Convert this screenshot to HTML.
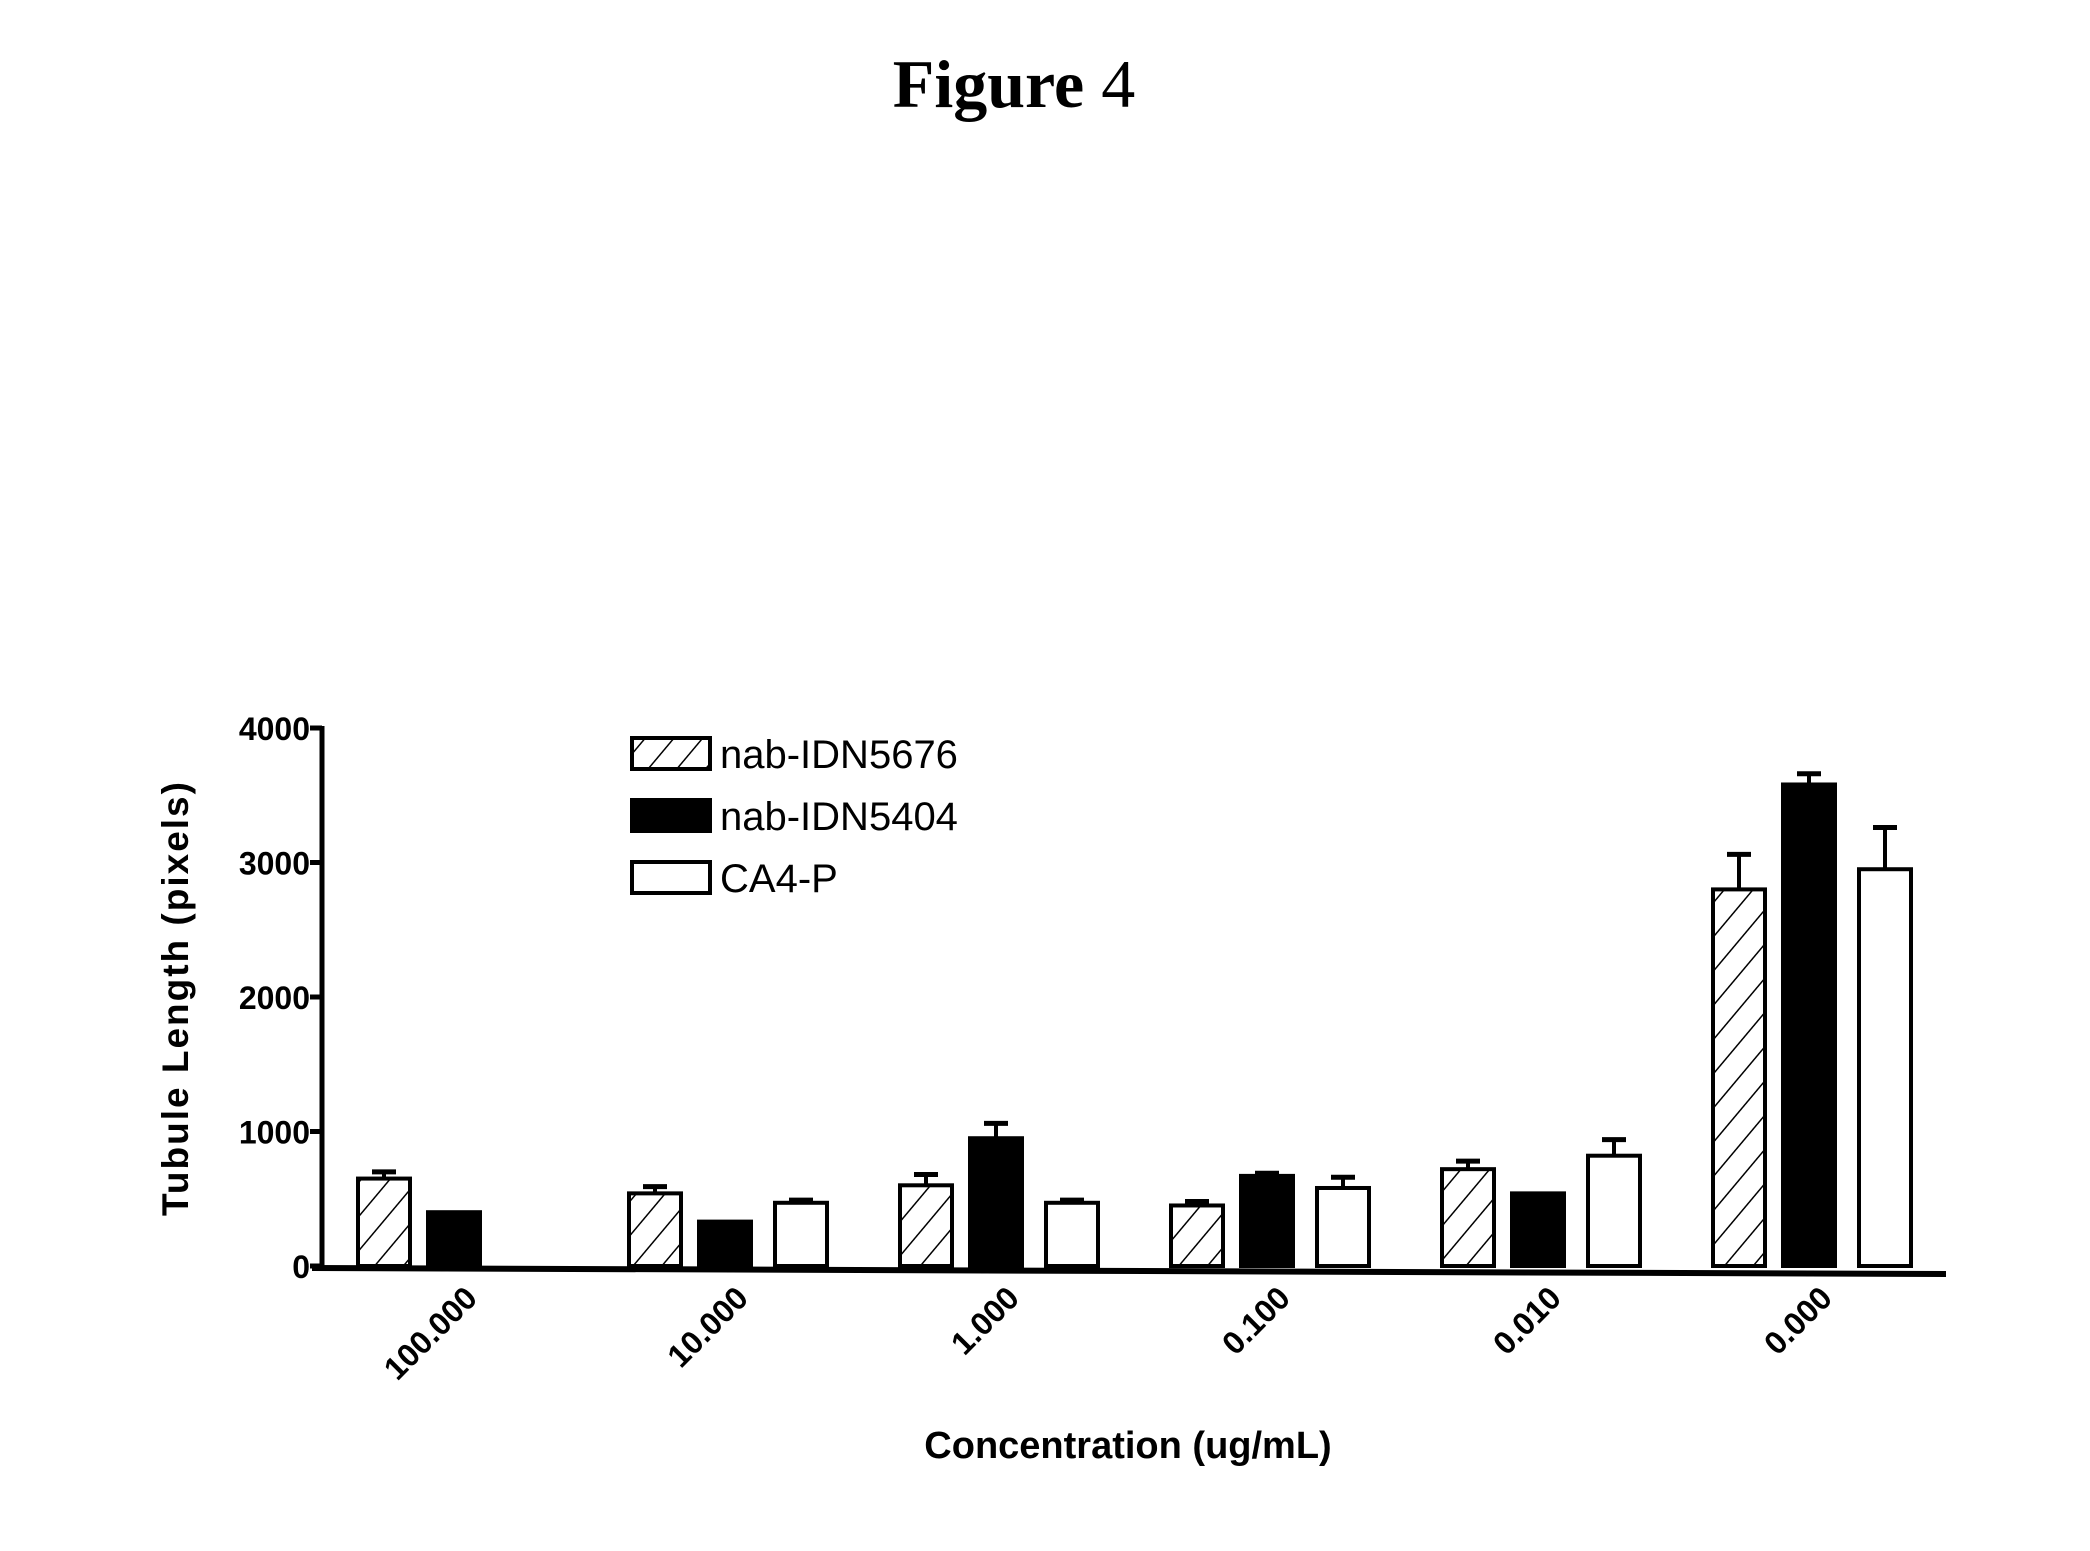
<!DOCTYPE html>
<html><head><meta charset="utf-8"><style>
html,body{margin:0;padding:0;background:#fff;}
svg{display:block;}
text{font-family:"Liberation Sans",sans-serif;fill:#000;}
</style></head><body>
<svg id="chart" width="2090" height="1551" viewBox="0 0 2090 1551" xmlns="http://www.w3.org/2000/svg">
<defs>
<pattern id="hatch" patternUnits="userSpaceOnUse" width="22" height="22" patternTransform="rotate(40)">
<rect width="22" height="22" fill="#fff"/>
<line x1="0" y1="0" x2="0" y2="22" stroke="#000" stroke-width="3"/>
</pattern>
</defs>
<text x="1014" y="107" text-anchor="middle" style="font-family:'Liberation Serif',serif;font-size:68px;font-weight:bold;">Figure <tspan font-weight="normal">4</tspan></text>
<g id="axes"></g>
<g id="bars"></g>
<g id="legend">
<rect x="632" y="738" width="78" height="31" fill="url(#hatch)" stroke="#000" stroke-width="4"/>
<text x="720" y="768" font-size="40">nab-IDN5676</text>
<rect x="632" y="800" width="78" height="31" fill="#000" stroke="#000" stroke-width="4"/>
<text x="720" y="830" font-size="40">nab-IDN5404</text>
<rect x="632" y="862" width="78" height="31" fill="#fff" stroke="#000" stroke-width="4"/>
<text x="720" y="892" font-size="40">CA4-P</text>
</g>
<text transform="translate(188,998) rotate(-90)" text-anchor="middle" font-size="37" font-weight="bold" letter-spacing="2">Tubule Length (pixels)</text>
<text x="1128" y="1458" text-anchor="middle" font-size="38" font-weight="bold">Concentration (ug/mL)</text>
</svg>
<script>
const categories = ["100.000","10.000","1.000","0.100","0.010","0.000"];
const seriesNames = ["nab-IDN5676","nab-IDN5404","CA4-P"];
const hatchedVals = [650, 540, 600, 450, 720, 2800];
const hatchedErr  = [50, 50, 80, 30, 60, 260];
const blackVals   = [400, 330, 950, 670, 540, 3580];
const blackErr    = [0, 0, 110, 20, 0, 80];
const whiteVals   = [null, 470, 470, 580, 820, 2950];
const whiteErr    = [null, 20, 20, 80, 120, 310];
const yTicks = [0, 1000, 2000, 3000, 4000];

const NS = "http://www.w3.org/2000/svg";
const x0 = 322, xEnd = 1946, yBase = 1266, yTop = 728, yMax = 4000;
const yScale = v => yBase - v * (yBase - yTop) / yMax;
const groupX = i => 358 + i * 271;
const barW = 52, offsets = [0, 70, 146];
const fills = ["url(#hatch)", "#000", "#fff"];
function mk(tag, attrs, parent) {
  const e = document.createElementNS(NS, tag);
  for (const k in attrs) e.setAttribute(k, attrs[k]);
  parent.appendChild(e); return e;
}
const axes = document.getElementById("axes");
const bars = document.getElementById("bars");
let yl = mk("line", {x1:x0, y1:yTop-2, x2:x0, y2:yBase+3, stroke:"#000", "stroke-width":5}, axes);


let xl = mk("line", {x1:x0-10, y1:yBase+2, x2:xEnd, y2:yBase+8, stroke:"#000", "stroke-width":6}, axes);


yTicks.forEach(v => {
  const y = yScale(v);
  const t = mk("line", {x1:x0-12, y1:y, x2:x0, y2:y, stroke:"#000", "stroke-width":5}, axes);
  
  
  const l = mk("text", {x:x0-12, y:y+12, "text-anchor":"end", "font-size":32, "font-weight":"bold"}, axes);
  l.textContent = v;
  
  
});
const all = [[hatchedVals, hatchedErr], [blackVals, blackErr], [whiteVals, whiteErr]];
categories.forEach((c, i) => {
  all.forEach(([vals, errs], s) => {
    const v = vals[i];
    if (v === null) return;
    const x = groupX(i) + offsets[s];
    const e = errs[i];
    if (e > 0) {
      const cx = x + barW/2;
      const el = mk("line", {x1:cx, y1:yScale(v), x2:cx, y2:yScale(v+e), stroke:"#000", "stroke-width":4}, bars);
      
      
      const cap = mk("line", {x1:cx-12, y1:yScale(v+e), x2:cx+12, y2:yScale(v+e), stroke:"#000", "stroke-width":5}, bars);
      
      
    }
    const r = mk("rect", {x:x, y:yScale(v), width:barW, height:yBase - yScale(v), fill:fills[s], stroke:"#000", "stroke-width":4}, bars);
    
    
  });
  const cx = groupX(i) + 99 + 22;
  const lab = mk("text", {x:cx, y:1300, "text-anchor":"end", "font-size":32, "font-weight":"bold", transform:`rotate(-45 ${cx} 1300)`}, axes);
  lab.textContent = c;
  
  
});
</script>
</body></html>
